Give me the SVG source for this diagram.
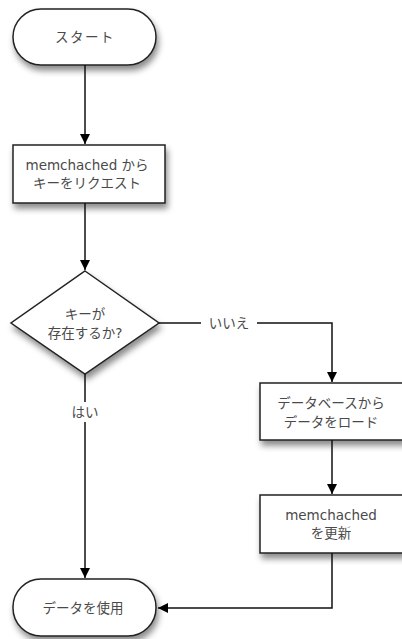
<svg xmlns="http://www.w3.org/2000/svg" width="402" height="639" viewBox="0 0 402 639">
  <defs>
    <filter id="shadow" x="-20%" y="-30%" width="150%" height="170%">
      <feDropShadow dx="2" dy="5" stdDeviation="3" flood-color="#000" flood-opacity="0.45"/>
    </filter>
    <marker id="arrow" viewBox="0 0 10 10" refX="10" refY="5" markerWidth="10" markerHeight="10" markerUnits="userSpaceOnUse" orient="auto">
      <path d="M0,0 L10,5 L0,10 z" fill="#000"/>
    </marker>
  </defs>
  <style>
    .shape { fill: #fff; stroke: #222; stroke-width: 1.5; filter: url(#shadow); }
    .label { font-family: "DejaVu Sans", "Noto Sans CJK JP", sans-serif; font-size: 13.5px; fill: #4a4a4a; text-anchor: middle; dominant-baseline: central; }
    .edge { fill: none; stroke: #111; stroke-width: 1.5; }
  </style>
  <rect width="402" height="639" fill="#fff"/>

  <g id="start">
    <rect class="shape" x="13" y="9" width="143" height="56" rx="28" ry="28"/>
    <text class="label" x="85" y="37" letter-spacing="1.5">スタート</text>
  </g>

  <g id="request-key">
    <rect class="shape" x="13" y="145" width="152" height="58"/>
    <text class="label" x="87" y="165">memchached から</text>
    <text class="label" x="87" y="183">キーをリクエスト</text>
  </g>

  <g id="key-exists">
    <polygon class="shape" points="85,271 159,323 85,374 11,323"/>
    <text class="label" x="85" y="314">キーが</text>
    <text class="label" x="85" y="333">存在するか?</text>
  </g>

  <g id="load-from-db">
    <rect class="shape" x="260" y="383" width="145" height="57"/>
    <text class="label" x="331" y="403">データベースから</text>
    <text class="label" x="331" y="422">データをロード</text>
  </g>

  <g id="update-memchached">
    <rect class="shape" x="260" y="495" width="145" height="58"/>
    <text class="label" x="331" y="515">memchached</text>
    <text class="label" x="331" y="533">を更新</text>
  </g>

  <g id="use-data">
    <rect class="shape" x="13" y="579" width="143" height="57" rx="28" ry="28"/>
    <text class="label" x="83" y="608">データを使用</text>
  </g>

  <g id="connectors">
    <line class="edge" x1="85" y1="65" x2="85" y2="144" marker-end="url(#arrow)"/>
    <line class="edge" x1="85" y1="203" x2="85" y2="270" marker-end="url(#arrow)"/>
    <!-- no branch -->
    <polyline class="edge" points="159,323 201,323"/>
    <polyline class="edge" points="257,323 332,323 332,382" marker-end="url(#arrow)"/>
    <text class="label" x="229" y="323">いいえ</text>
    <!-- yes branch -->
    <line class="edge" x1="85" y1="374" x2="85" y2="402"/>
    <line class="edge" x1="85" y1="422" x2="85" y2="578" marker-end="url(#arrow)"/>
    <text class="label" x="85" y="412">はい</text>
    <line class="edge" x1="332" y1="440" x2="332" y2="494" marker-end="url(#arrow)"/>
    <polyline class="edge" points="332,553 332,608 158,608" marker-end="url(#arrow)"/>
  </g>
</svg>
